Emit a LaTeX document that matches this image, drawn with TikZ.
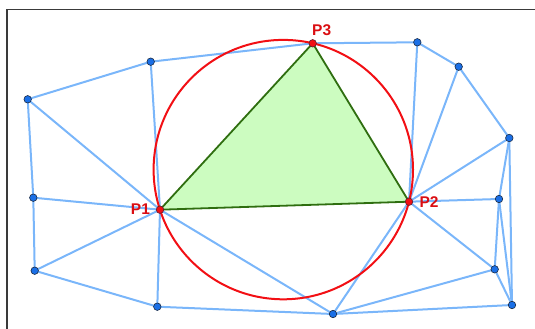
\documentclass[tikz,border=0pt]{standalone}
\usepackage{fontspec}
\setmainfont{Liberation Sans}
\usepackage{xcolor}
\usetikzlibrary{positioning}
\definecolor{meshblue}{HTML}{7AB6FA}
\definecolor{dotblue}{HTML}{1A6FE6}
\definecolor{dotrim}{HTML}{1B2B45}
\definecolor{circred}{HTML}{F20F14}
\definecolor{trigreen}{HTML}{CCFCC0}
\definecolor{edgegreen}{HTML}{2F6E10}
\definecolor{framegray}{HTML}{3A3A3A}

\begin{document}
\begin{tikzpicture}[
  x=1pt, y=-1pt,
  mesh/.style={meshblue, line width=2pt},
  bdot/.style={circle, draw=dotrim, line width=0.6pt, fill=dotblue, inner sep=0pt, minimum size=7.5pt},
  rdot/.style={circle, draw=dotrim!70!red, line width=0.6pt, fill=circred, inner sep=0pt, minimum size=7.5pt},
  lbl/.style={font=\fontsize{15.5}{15.5}\selectfont\bfseries, text=circred!90!black},
]
  \useasboundingbox (0,0) rectangle (535,329);
  \draw[framegray, line width=1.6pt] (7,329) -- (7,9.6) -- (535,9.6);
  \coordinate (A) at (27.7,99.3);
  \coordinate (B) at (150.7,61.7);
  \coordinate (C) at (417.3,42.3);
  \coordinate (D) at (458.7,66.7);
  \coordinate (E) at (509.3,138);
  \coordinate (F) at (33.3,197.7);
  \coordinate (G) at (34.7,270.7);
  \coordinate (H) at (157.3,306.7);
  \coordinate (I) at (499,199);
  \coordinate (J) at (494.7,269.3);
  \coordinate (K) at (512,305);
  \coordinate (L) at (333,314);
  \coordinate (p1) at (160,209.7);
  \coordinate (p2) at (409,201.7);
  \coordinate (p3) at (312.7,43.3);
  \foreach \a/\b in {A/B, A/F, A/p1, B/p3, B/p1, p3/C, C/D, D/E, C/p2, D/p2,
      E/p2, E/I, E/K, p2/I, p2/J, p2/L, I/J, I/K, J/K, J/L, L/K, H/L,
      p1/L, p1/H, p1/F, p1/G, F/G, G/H}
    \draw[mesh] (\a) -- (\b);
  \draw[edgegreen, line width=1.8pt, fill=trigreen, line join=round] (p1) -- (p2) -- (p3) -- cycle;
  \draw[circred, line width=2pt] (283.3,169.6) circle[radius=129.7];
  \foreach \n in {A,B,C,D,E,F,G,H,I,J,K,L}
    \node[bdot] (\n dot) at (\n) {};
  \node[rdot] (p1dot) at (p1) {};
  \node[rdot] (p2dot) at (p2) {};
  \node[rdot] (p3dot) at (p3) {};
  \node[lbl, left=2.5pt of p1dot, yshift=1pt] (p1lbl) {P1};
  \node[lbl, right=3pt of p2dot] (p2lbl) {P2};
  \node[lbl, above=0pt of p3dot, xshift=9pt] (p3lbl) {P3};
\end{tikzpicture}
\end{document}
